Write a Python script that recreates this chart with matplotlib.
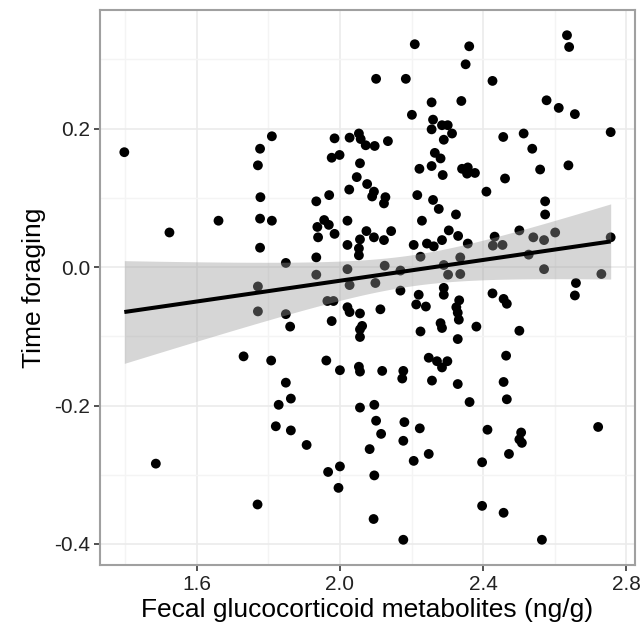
import numpy as np
import matplotlib
matplotlib.use("Agg")
import matplotlib.pyplot as plt
from matplotlib.ticker import MultipleLocator

# Fecal glucocorticoid metabolites (ng/g) and Time foraging
fgm = [
    1.398, 1.810, 1.777, 1.771, 1.778, 1.661, 1.777, 1.810, 1.524, 1.777,
    1.771, 1.771, 1.731, 1.808, 1.486, 1.770,
    2.209, 2.101, 2.184, 2.256, 2.201, 2.260, 2.256, 1.985, 2.027, 2.053,
    2.058, 2.072, 2.097, 2.134, 1.977, 1.999, 2.056, 2.047, 2.076, 2.026,
    1.970, 2.095, 2.090, 2.127, 1.934, 2.216, 2.222, 2.256, 2.287, 2.265,
    2.281, 2.260,
    2.634, 2.640, 2.361, 2.351, 2.426, 2.339, 2.577, 2.611, 2.656, 2.756,
    2.456, 2.513, 2.537, 2.638, 2.559, 2.461, 2.409, 2.285, 2.301, 2.313,
    2.290, 2.341, 2.357, 2.355, 2.377,
    2.123, 2.276, 1.956, 1.937, 1.969, 1.985, 1.939, 2.021, 2.074, 2.056,
    2.095, 2.123, 2.143, 2.021, 2.053, 2.053, 1.934, 2.229, 2.206, 2.243,
    2.262, 2.285, 1.849, 1.934, 2.021, 2.027, 2.099, 2.125, 2.169, 2.225,
    2.290, 2.169, 2.220, 2.213, 2.240, 2.290, 1.965, 1.982, 1.849, 1.861,
    2.021, 2.027, 2.056, 2.113, 1.977, 2.062, 2.056, 2.056, 2.225, 2.281,
    2.285, 1.962, 2.000, 2.053, 2.056, 2.118, 2.177, 2.174, 2.248, 2.271,
    2.285, 2.257, 1.849,
    1.829, 1.863, 1.821, 1.863, 1.907, 1.967, 2.000, 1.996, 2.056, 2.096,
    2.101, 2.115, 2.083, 2.096, 2.094, 2.180, 2.223, 2.177, 2.206, 2.248,
    2.177,
    2.573, 2.573, 2.324, 2.304, 2.330, 2.357, 2.336, 2.302, 2.336, 2.432,
    2.427, 2.454, 2.501, 2.540, 2.570, 2.601, 2.527, 2.570, 2.730, 2.756,
    2.659, 2.656, 2.290, 2.426, 2.457, 2.466, 2.333, 2.325, 2.329, 2.332,
    2.381, 2.501, 2.329, 2.464, 2.300, 2.457, 2.329,
    2.362, 2.466, 2.412, 2.506, 2.501, 2.508, 2.472, 2.397, 2.397, 2.457,
    2.564, 2.721,
]
foraging = [
    0.166, 0.189, 0.171, 0.147, 0.101, 0.067, 0.070, 0.067, 0.050, 0.028,
    -0.028, -0.064, -0.129, -0.135, -0.284, -0.343,
    0.322, 0.272, 0.272, 0.238, 0.220, 0.213, 0.199, 0.186, 0.187, 0.193,
    0.185, 0.176, 0.175, 0.182, 0.158, 0.162, 0.150, 0.130, 0.120, 0.112,
    0.104, 0.109, 0.102, 0.101, 0.095, 0.104, 0.142, 0.146, 0.133, 0.165,
    0.157, 0.097,
    0.335, 0.318, 0.319, 0.293, 0.269, 0.240, 0.241, 0.230, 0.221, 0.195,
    0.188, 0.193, 0.171, 0.147, 0.141, 0.128, 0.109, 0.205, 0.205, 0.193,
    0.184, 0.142, 0.144, 0.135, 0.136,
    0.092, 0.084, 0.068, 0.058, 0.061, 0.048, 0.043, 0.067, 0.052, 0.040,
    0.043, 0.039, 0.052, 0.032, 0.027, 0.017, 0.014, 0.067, 0.032, 0.034,
    0.030, 0.039, 0.006, -0.011, -0.003, -0.026, -0.023, 0.002, -0.005, 0.015,
    0.003, -0.034, -0.040, -0.054, -0.057, -0.040, -0.049, -0.049, -0.068, -0.086,
    -0.058, -0.065, -0.067, -0.061, -0.078, -0.085, -0.090, -0.101, -0.093, -0.081,
    -0.088, -0.135, -0.149, -0.144, -0.151, -0.150, -0.150, -0.161, -0.131, -0.136,
    -0.145, -0.164, -0.167,
    -0.199, -0.190, -0.230, -0.236, -0.257, -0.296, -0.288, -0.319, -0.203, -0.199,
    -0.222, -0.241, -0.263, -0.301, -0.364, -0.224, -0.233, -0.251, -0.280, -0.270,
    -0.394,
    0.095, 0.076, 0.076, 0.053, 0.045, 0.034, 0.014, -0.011, -0.010, 0.044,
    0.031, 0.032, 0.053, 0.043, 0.039, 0.050, 0.018, -0.003, -0.010, 0.043,
    -0.023, -0.041, -0.030, -0.038, -0.046, -0.053, -0.048, -0.058, -0.066, -0.076,
    -0.086, -0.092, -0.104, -0.128, -0.136, -0.166, -0.169,
    -0.195, -0.191, -0.235, -0.239, -0.249, -0.254, -0.270, -0.282, -0.345, -0.355,
    -0.394, -0.231,
]

x_ticks = [1.6, 2.0, 2.4, 2.8]
y_ticks = [-0.4, -0.2, 0.0, 0.2]

x = np.array(fgm)
y = np.array(foraging)

fig = plt.figure(figsize=(6.43, 6.34), dpi=100)
ax = fig.add_axes([100 / 643, 1 - 565 / 634, 535 / 643, 555 / 634])

ax.scatter(x, y, s=50, color="black", edgecolors="none", zorder=3)

# linear fit with 95% confidence band
n = len(x)
b1, b0 = np.polyfit(x, y, 1)
xs = np.linspace(x.min(), x.max(), 100)
ys = b0 + b1 * xs
resid = y - (b0 + b1 * x)
s_err = np.sqrt(np.sum(resid ** 2) / (n - 2))
sxx = np.sum((x - x.mean()) ** 2)
se = s_err * np.sqrt(1 / n + (xs - x.mean()) ** 2 / sxx)
tval = 1.972
ax.fill_between(xs, ys - tval * se, ys + tval * se, color="#999999", alpha=0.4,
                linewidth=0, zorder=4)
ax.plot(xs, ys, color="black", linewidth=2.9, zorder=5, solid_capstyle="butt")

rng = x.max() - x.min()
ax.set_xlim(x.min() - 0.05 * rng, x.max() + 0.05 * rng)
yr = y.max() - y.min()
ax.set_ylim(y.min() - 0.05 * yr, y.max() + 0.05 * yr)

ax.set_xticks(x_ticks)
ax.set_yticks(y_ticks)
ax.xaxis.set_minor_locator(MultipleLocator(0.2))
ax.yaxis.set_minor_locator(MultipleLocator(0.1))
ax.set_xticklabels([f"{v:.1f}" for v in x_ticks])
ax.set_yticklabels([f"{v:.1f}" for v in y_ticks])

ax.grid(True, which="major", color="#ebebeb", linewidth=1.2, zorder=0)
ax.grid(True, which="minor", color="#f4f4f4", linewidth=1.0, zorder=0)
ax.set_axisbelow(True)

for sp in ax.spines.values():
    sp.set_color("#a0a0a0")
    sp.set_linewidth(1.5)

ax.tick_params(axis="both", which="major", length=4, width=1.2, color="#333333",
               labelsize=15, labelcolor="#222222", pad=3)
ax.tick_params(axis="both", which="minor", length=0)
for lab in ax.get_xticklabels() + ax.get_yticklabels():
    lab.set_family(["Liberation Sans", "DejaVu Sans"])

ax.set_xlabel("Fecal glucocorticoid metabolites (ng/g)", fontsize=19,
              family=["Liberation Sans", "DejaVu Sans"], labelpad=3)
ax.set_ylabel("Time foraging", fontsize=19,
              family=["Liberation Sans", "DejaVu Sans"], labelpad=6)

fig.savefig("out.png", dpi=100, facecolor="white")
